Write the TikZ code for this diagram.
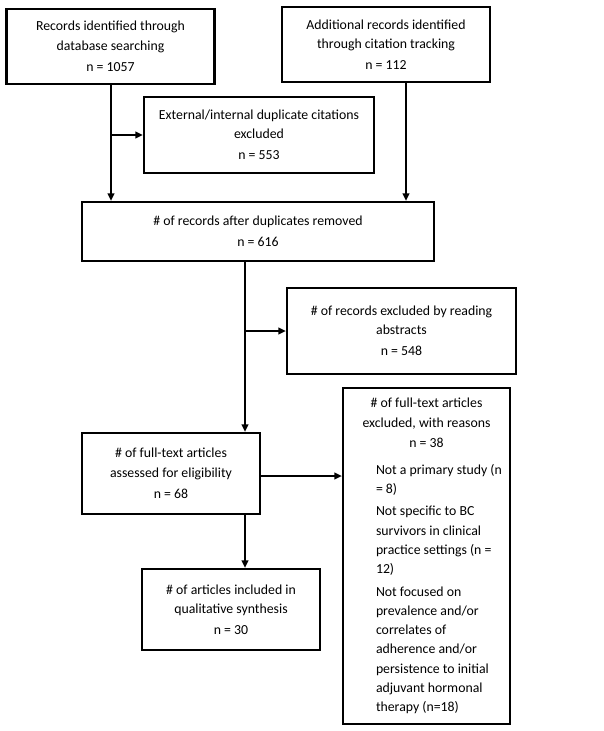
\documentclass[tikz,border=0pt]{standalone}
\usepackage{fontspec}
\setmainfont{Carlito}
\usetikzlibrary{arrows.meta,calc}
\begin{document}
\begin{tikzpicture}[x=1pt,y=-1pt,
  box/.style={draw,line width=2.1pt,align=center,inner sep=0pt,font=\fontsize{13.8}{19.5}\selectfont},
  arr/.style={line width=1.8pt,-{Triangle[length=7.5pt,width=6.5pt]}}]
\useasboundingbox (0,0) rectangle (603,731);
\node[box,minimum width=208pt,minimum height=75pt] (b1) at (110.5,46.5) {Records identified through\\database searching\\[1.5pt]n = 1057};
\node[box,minimum width=208pt,minimum height=75pt] (b2) at (386,44.5) {Additional records identified\\through citation tracking\\[1.5pt]n = 112};
\node[box,minimum width=230pt,minimum height=76pt] (b3) at (259,135) {External/internal duplicate citations\\excluded\\[1.5pt]n = 553};
\node[box,minimum width=352pt,minimum height=59pt] (b4) at (258,231.5) {\# of records after duplicates removed\\[1.5pt]n = 616};
\node[box,minimum width=229pt,minimum height=86pt] (b5) at (401.5,331) {\# of records excluded by reading\\abstracts\\[1.5pt]n = 548};
\node[box,minimum width=178pt,minimum height=81pt] (b6) at (171,473.5) {\# of full-text articles\\assessed for eligibility\\[1.5pt]n = 68};
\node[box,minimum width=178pt,minimum height=81pt] (b8) at (231,609.5) {\# of articles included in\\qualitative synthesis\\[1.5pt]n = 30};
\node[box,minimum width=167pt,minimum height=336pt] (b7) at (426.5,556) {\begin{minipage}{167pt}\fontsize{13.8}{19.2}\selectfont\centering
\# of full-text articles\\excluded, with reasons\\[1.5pt]n = 38\par\vspace{3.5pt}
\raggedright\leftskip=33pt\parskip=3.5pt
Not a primary study (n\\= 8)\par
Not specific to BC\\survivors in clinical\\practice settings (n =\\12)\par
Not focused on\\prevalence and/or\\correlates of\\adherence and/or\\persistence to initial\\adjuvant hormonal\\therapy (n=18)\par
\end{minipage}};
\coordinate (x1) at (111,0);
\coordinate (x2) at (406,0);
\coordinate (x3) at (245,0);
\coordinate (y6) at (0,476);
\draw[arr] (x1 |- b1.south) -- (x1 |- b4.north);
\draw[arr] (x1 |- b3.west) -- (b3.west);
\draw[arr] (x2 |- b2.south) -- (x2 |- b4.north);
\draw[arr] (x3 |- b4.south) -- (x3 |- b6.north);
\draw[arr] (x3 |- b5.west) -- (b5.west);
\draw[arr] (b6.east |- y6) -- (b7.west |- y6);
\draw[arr] (x3 |- b6.south) -- (x3 |- b8.north);
\end{tikzpicture}
\end{document}
